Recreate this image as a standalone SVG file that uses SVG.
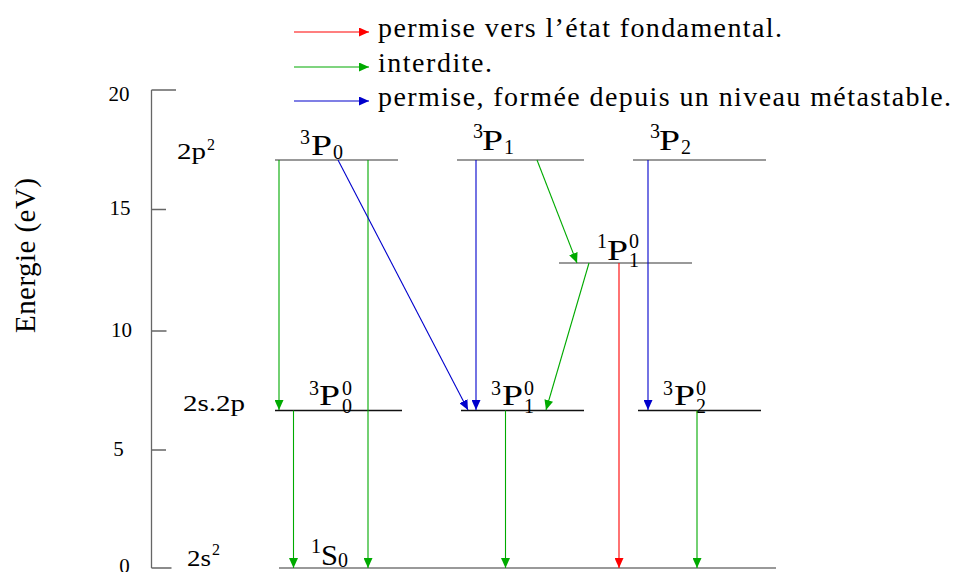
<svg xmlns="http://www.w3.org/2000/svg" width="957" height="572" viewBox="0 0 957 572" font-family="'Liberation Serif','Times New Roman',serif">
<style>
text{font-family:"Liberation Serif","Times New Roman",serif;fill:#000}
.leg{font-size:28px}
.tick{font-size:21px}
.conf{font-size:24px}
.sup{font-size:16px}
.big{font-size:30px}
.idx{font-size:20px}
.axis{stroke:#666;stroke-width:1.3;fill:none}
.lvl{stroke:#777;stroke-width:1.5}
.lvlb{stroke:#111;stroke-width:1.3}
.r{stroke:#ff0000;stroke-width:1.1;fill:none;marker-end:url(#mr)}
.g{stroke:#00aa00;stroke-width:1.1;fill:none;marker-end:url(#mg)}
.b{stroke:#0000cc;stroke-width:1.1;fill:none;marker-end:url(#mb)}
</style>
<defs>
<marker id="mr" markerUnits="userSpaceOnUse" viewBox="0 0 10 9" markerWidth="10" markerHeight="9" refX="10" refY="4.5" orient="auto"><path d="M0,0 L10,4.5 L0,9 z" fill="#ff0000"/></marker>
<marker id="mg" markerUnits="userSpaceOnUse" viewBox="0 0 10 9" markerWidth="10" markerHeight="9" refX="10" refY="4.5" orient="auto"><path d="M0,0 L10,4.5 L0,9 z" fill="#00aa00"/></marker>
<marker id="mb" markerUnits="userSpaceOnUse" viewBox="0 0 10 9" markerWidth="10" markerHeight="9" refX="10" refY="4.5" orient="auto"><path d="M0,0 L10,4.5 L0,9 z" fill="#0000cc"/></marker>
</defs>

<g id="legend">
<line class="r" x1="294" y1="32" x2="369" y2="32"/>
<text class="leg" x="378" y="37" textLength="404" lengthAdjust="spacing">permise vers l’état fondamental.</text>
<line class="g" x1="294" y1="67" x2="369" y2="67"/>
<text class="leg" x="378" y="71.5" textLength="114" lengthAdjust="spacing">interdite.</text>
<line class="b" x1="294" y1="101" x2="369" y2="101"/>
<text class="leg" x="378" y="106" textLength="573" lengthAdjust="spacing">permise, formée depuis un niveau métastable.</text>
</g>

<g id="axis">
<path class="axis" d="M151.5,90 V568 M151.5,90 H176 M151.5,209.5 H166 M151.5,331 H166.5 M151.5,450 H166 M151.5,568 H171.5"/>
<text class="tick" x="119" y="101" text-anchor="middle">20</text>
<text class="tick" x="120" y="215" text-anchor="middle">15</text>
<text class="tick" x="121.5" y="337" text-anchor="middle">10</text>
<text class="tick" x="118.5" y="456" text-anchor="middle">5</text>
<text class="tick" x="124.5" y="573" text-anchor="middle">0</text>
<text style="font-size:29px" transform="translate(35,255.5) rotate(-90)" text-anchor="middle" textLength="155" lengthAdjust="spacing">Energie (eV)</text>
</g>

<g id="config-labels">
<text class="conf" x="177" y="159" textLength="29" lengthAdjust="spacingAndGlyphs">2p</text>
<text class="sup" x="207" y="150">2</text>
<text class="conf" x="183" y="411" textLength="62" lengthAdjust="spacingAndGlyphs">2s.2p</text>
<text class="conf" x="187" y="566" textLength="24" lengthAdjust="spacingAndGlyphs">2s</text>
<text class="sup" x="212" y="555">2</text>
</g>

<g id="level-3P0">
<line class="lvl" x1="275" y1="160" x2="398" y2="160"/>
<text class="idx" x="300" y="144">3</text>
<text class="big" x="311" y="155" textLength="21" lengthAdjust="spacingAndGlyphs">P</text>
<text class="idx" x="333" y="159">0</text>
</g>

<g id="level-3P1">
<line class="lvl" x1="457" y1="160" x2="584" y2="160"/>
<text class="idx" x="473" y="138">3</text>
<text class="big" x="482" y="150" textLength="21" lengthAdjust="spacingAndGlyphs">P</text>
<text class="idx" x="504" y="154">1</text>
</g>

<g id="level-3P2">
<line class="lvl" x1="633" y1="160" x2="766" y2="160"/>
<text class="idx" x="650" y="138">3</text>
<text class="big" x="659" y="150" textLength="21" lengthAdjust="spacingAndGlyphs">P</text>
<text class="idx" x="681" y="154">2</text>
</g>

<g id="level-1P1o">
<line class="lvl" x1="559" y1="263" x2="692" y2="263"/>
<text class="idx" x="597" y="248">1</text>
<text class="big" x="607" y="260" textLength="21" lengthAdjust="spacingAndGlyphs">P</text>
<text class="idx" x="629" y="248">0</text>
<text class="idx" x="629" y="267">1</text>
</g>

<g id="level-3P0o">
<line class="lvlb" x1="275" y1="410.5" x2="402" y2="410.5"/>
<text class="idx" x="309" y="395">3</text>
<text class="big" x="319" y="405" textLength="21" lengthAdjust="spacingAndGlyphs">P</text>
<text class="idx" x="342" y="395">0</text>
<text class="idx" x="342" y="413">0</text>
</g>

<g id="level-3P1o">
<line class="lvlb" x1="461" y1="410.5" x2="584" y2="410.5"/>
<text class="idx" x="491" y="395">3</text>
<text class="big" x="502" y="405" textLength="21" lengthAdjust="spacingAndGlyphs">P</text>
<text class="idx" x="524" y="395">0</text>
<text class="idx" x="524" y="413">1</text>
</g>

<g id="level-3P2o">
<line class="lvlb" x1="638" y1="410.5" x2="761" y2="410.5"/>
<text class="idx" x="663" y="395">3</text>
<text class="big" x="674" y="405" textLength="21" lengthAdjust="spacingAndGlyphs">P</text>
<text class="idx" x="696" y="395">0</text>
<text class="idx" x="696" y="413">2</text>
</g>

<g id="level-1S0">
<line class="lvl" x1="279" y1="568" x2="776" y2="568"/>
<text class="idx" x="311" y="553">1</text>
<text class="big" x="321" y="565" textLength="17" lengthAdjust="spacingAndGlyphs">S</text>
<text class="idx" x="338" y="567">0</text>
</g>

<g id="connectors">
<line class="g" x1="279" y1="160" x2="279" y2="410"/>
<line class="g" x1="368" y1="160" x2="368" y2="568"/>
<line class="b" x1="338" y1="160" x2="468" y2="410"/>
<line class="b" x1="476" y1="160" x2="476" y2="410"/>
<line class="g" x1="537" y1="160" x2="577" y2="263"/>
<line class="g" x1="589" y1="263" x2="546" y2="410"/>
<line class="r" x1="619" y1="263" x2="619" y2="568"/>
<line class="b" x1="648" y1="160" x2="648" y2="410"/>
<line class="g" x1="293.5" y1="410.5" x2="293.5" y2="568"/>
<line class="g" x1="505.5" y1="410.5" x2="505.5" y2="568"/>
<line class="g" x1="697" y1="410.5" x2="697" y2="568"/>
</g>
</svg>
